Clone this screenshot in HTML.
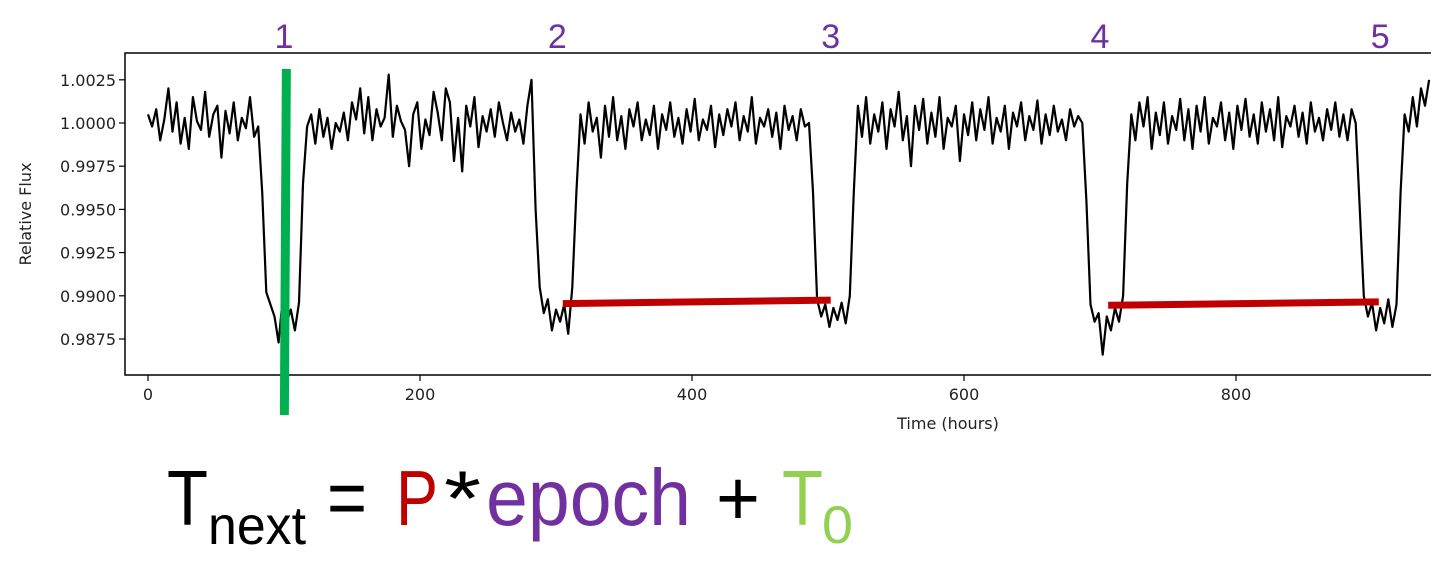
<!DOCTYPE html>
<html><head><meta charset="utf-8"><style>
html,body{margin:0;padding:0;background:#fff;width:1431px;height:569px;overflow:hidden}
svg{display:block}
</style></head><body>
<svg id="chart" width="1431" height="569" xmlns="http://www.w3.org/2000/svg">
<g id="plot"></g>
</svg>
<script>
// Chart data
const hours = [];
for (let i = 0; i < 315; i++) hours.push(i * 3);
const flux = [
1.0005,0.9998,1.0008,0.9990,1.0002,1.0020,0.9995,1.0012,0.9988,1.0003,0.9985,1.0015,1.0001,0.9996,1.0018,0.9992,1.0005,1.0010,0.9980,1.0007,0.9994,1.0012,0.9990,1.0003,0.9997,1.0015,0.9992,0.9998,
0.9960,0.9902,0.9895,0.9888,0.9873,0.9898,0.9885,0.9892,0.9880,0.9896,0.9965,
0.9998,1.0005,0.9988,1.0008,0.9992,1.0003,0.9985,1.0000,0.9995,1.0006,0.9990,1.0012,1.0002,1.0020,0.9994,1.0015,0.9990,1.0008,0.9998,1.0003,1.0028,0.9992,1.0010,1.0001,0.9996,0.9975,1.0005,1.0012,0.9985,1.0002,0.9993,1.0018,1.0006,0.9990,1.0020,1.0012,0.9978,1.0003,0.9972,1.0010,0.9998,1.0015,0.9986,1.0004,0.9995,1.0008,0.9992,1.0012,1.0000,0.9990,1.0006,0.9995,1.0002,0.9988,1.0010,1.0025,
0.9950,0.9905,0.9890,0.9898,0.9880,0.9892,0.9885,0.9895,0.9878,0.9905,0.9960,
1.0005,0.9988,1.0012,0.9995,1.0003,0.9980,1.0010,0.9992,1.0015,0.9990,1.0004,0.9985,1.0008,0.9998,1.0012,0.9990,1.0002,0.9993,1.0010,0.9985,1.0005,0.9996,1.0012,0.9992,1.0003,0.9988,1.0008,0.9995,1.0014,0.9990,1.0002,0.9996,1.0010,0.9986,1.0005,0.9993,1.0008,0.9998,1.0012,0.9990,1.0004,0.9995,1.0015,0.9988,1.0003,0.9998,1.0008,0.9992,1.0006,0.9985,1.0010,0.9996,1.0004,0.9990,1.0008,0.9998,1.0000,
0.9960,0.9898,0.9888,0.9895,0.9882,0.9893,0.9886,0.9896,0.9884,0.9900,0.9960,
1.0010,0.9992,1.0015,0.9988,1.0005,0.9995,1.0012,0.9985,1.0008,0.9998,1.0018,0.9990,1.0004,0.9975,1.0010,0.9996,1.0014,0.9988,1.0006,0.9992,1.0015,0.9985,1.0003,0.9998,1.0010,0.9978,1.0005,0.9993,1.0012,0.9990,1.0008,0.9996,1.0015,0.9988,1.0003,0.9995,1.0010,0.9985,1.0006,0.9998,1.0012,0.9990,1.0004,0.9996,1.0013,0.9988,1.0005,0.9993,1.0010,0.9995,1.0002,0.9990,1.0008,0.9998,1.0004,1.0000,
0.9955,0.9895,0.9885,0.9890,0.9866,0.9888,0.9880,0.9893,0.9885,0.9900,0.9965,
1.0005,0.9990,1.0012,0.9998,1.0015,0.9985,1.0006,0.9993,1.0012,0.9988,1.0004,0.9996,1.0014,0.9990,1.0008,0.9985,1.0010,0.9995,1.0015,0.9988,1.0003,0.9998,1.0012,0.9990,1.0006,0.9985,1.0010,0.9996,1.0014,0.9992,1.0005,0.9988,1.0012,0.9995,1.0008,0.9990,1.0015,0.9986,1.0004,0.9998,1.0010,0.9992,1.0006,0.9988,1.0012,0.9995,1.0003,0.9990,1.0008,0.9996,1.0012,0.9992,1.0005,0.9990,1.0008,1.0000,
0.9950,0.9900,0.9888,0.9896,0.9880,0.9893,0.9884,0.9898,0.9882,0.9895,0.9960,
1.0005,0.9995,1.0015,0.9998,1.0020,1.0010,1.0025
];
const xTicks = [0, 200, 400, 600, 800];
const yTicks = [0.9875, 0.9900, 0.9925, 0.9950, 0.9975, 1.0000, 1.0025];
const yTickLabels = ["0.9875","0.9900","0.9925","0.9950","0.9975","1.0000","1.0025"];
const epochLabels = ["1","2","3","4","5"];
const epochHours = [100, 301, 502, 700, 906];
const periodSegments = [[305, 0.98955, 502, 0.98975], [706, 0.98945, 905, 0.98965]];
const t0Hour = 101;

const X0 = 148, XS = 1.36;
const Y0 = 123, YS = 43.2 / 0.0025;
const xs = h => X0 + h * XS;
const ys = v => Y0 - (v - 1) * YS;
const NS = "http://www.w3.org/2000/svg";
const svg = document.getElementById('chart');
const plot = document.getElementById('plot');
function mk(tag, attrs, parent, text) {
  const e = document.createElementNS(NS, tag);
  for (const k in attrs) e.setAttribute(k, attrs[k]);
  if (text !== undefined) e.textContent = text;
  (parent || svg).appendChild(e);
  return e;
}
const font = '"DejaVu Sans", "Liberation Sans", sans-serif';

let fr = mk('rect', {x:125, y:53, width:1320, height:322, fill:'none', stroke:'#000', 'stroke-width':1.5}, plot);



yTicks.forEach((v, i) => {
  const y = ys(v);
  const t = mk('line', {x1:119, x2:125, y1:y, y2:y, stroke:'#000', 'stroke-width':1.2}, plot);
  
  
  const l = mk('text', {x:116, y:y + 6, 'text-anchor':'end', 'font-size':16, 'font-family':font, fill:'#222'}, plot, yTickLabels[i]);
  
  
});
xTicks.forEach(v => {
  const x = xs(v);
  const t = mk('line', {x1:x, x2:x, y1:375, y2:381, stroke:'#000', 'stroke-width':1.2}, plot);
  
  
  const l = mk('text', {x:x, y:400, 'text-anchor':'middle', 'font-size':16, 'font-family':font, fill:'#222'}, plot, String(v));
  
  
});
let xt = mk('text', {x:948, y:429, 'text-anchor':'middle', 'font-size':16, 'font-family':font, fill:'#222'}, plot, 'Time (hours)');


let yt = mk('text', {x:0, y:0, 'text-anchor':'middle', 'font-size':16, 'font-family':font, fill:'#222', transform:'translate(31,214) rotate(-90)'}, plot, 'Relative Flux');



const clip = mk('clipPath', {id:'pc'}, svg);
mk('rect', {x:125, y:53, width:1320, height:322}, clip);
let d = hours.map((h, i) => (i ? 'L' : 'M') + xs(h).toFixed(1) + ',' + ys(flux[i]).toFixed(1)).join('');
let lc = mk('path', {d:d, fill:'none', stroke:'#000', 'stroke-width':2.2, 'stroke-linejoin':'round', 'clip-path':'url(#pc)'}, plot);



periodSegments.forEach(s => {
  const p = mk('line', {x1:xs(s[0]), y1:ys(s[1]), x2:xs(s[2]), y2:ys(s[3]), stroke:'#c00000', 'stroke-width':7}, svg);
  
  
});
let g = mk('line', {x1:xs(t0Hour) + 1, y1:69, x2:xs(t0Hour) - 1, y2:415, stroke:'#00b050', 'stroke-width':9}, svg);



epochLabels.forEach((s, i) => {
  const e = mk('text', {x:xs(epochHours[i]), y:48, 'text-anchor':'middle', 'font-size':34, 'font-family':'"Liberation Sans", sans-serif', fill:'#7030a0'}, svg, s);
  
  
});

// formula: [text, x, baseline y, size, color, name, width]
const ff = '"Liberation Sans", sans-serif';
const parts = [
  ['T', 167, 525, 78, '#000', 'formula-t', 41],
  ['next', 208, 544, 54, '#000', 'formula-next-subscript', 98],
  ['=', 327, 525, 80, '#000', 'formula-equals', 40],
  ['P', 396, 525, 78, '#c00000', 'formula-period', 42],
  ['*', 444, 525, 78, '#000', 'formula-times', 37],
  ['epoch', 486, 525, 80, '#7030a0', 'formula-epoch', 205],
  ['+', 716, 525, 78, '#000', 'formula-plus', 44],
  ['T', 782, 525, 78, '#92d050', 'formula-t0', 41],
  ['0', 822, 543, 53, '#92d050', 'formula-zero-subscript', 31]
];
parts.forEach(p => {
  const t = mk('text', {x:p[1], y:p[2], 'font-size':p[3], 'font-family':ff, fill:p[4], textLength:p[6], lengthAdjust:'spacingAndGlyphs'}, svg, p[0]);
  
  
});
</script>
</body></html>
